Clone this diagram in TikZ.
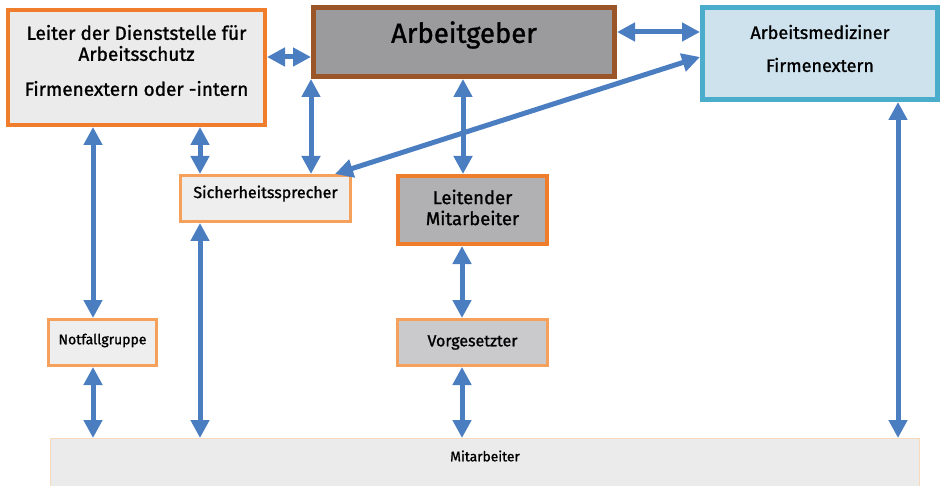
\documentclass[tikz,border=0pt]{standalone}
\usepackage{fontspec}
\setmainfont{Fira Sans}[FakeBold=1.2]
\usetikzlibrary{arrows.meta}
\definecolor{orgA}{HTML}{EF7D2B}
\definecolor{orgB}{HTML}{F5A15C}
\definecolor{orgC}{HTML}{F9D9BC}
\definecolor{brownA}{HTML}{9A5528}
\definecolor{cyanA}{HTML}{49ADCB}
\definecolor{blueA}{HTML}{4A7EC1}
\definecolor{grayA}{HTML}{9B9B9D}
\definecolor{grayB}{HTML}{B1B1B3}
\definecolor{grayC}{HTML}{CACACC}
\definecolor{grayD}{HTML}{EBEBEB}
\definecolor{grayE}{HTML}{EEEEEE}
\definecolor{lblue}{HTML}{CEE2EE}
\begin{document}
\begin{tikzpicture}[x=1pt,y=-1pt,
  box/.style={draw, rectangle, inner sep=0pt},
  txt/.style={align=center, inner sep=0pt, text=black},
  link/.style={draw=blueA, line width=5pt,
    {Triangle[width=18pt,length=18pt]}-{Triangle[width=18pt,length=18pt]}}]
\useasboundingbox (0,0) rectangle (944,486);

\node[box, draw=orgA, fill=grayD, line width=4pt, minimum width=257pt, minimum height=115pt,
  label={[txt, yshift=7pt, font=\fontsize{19}{21}\selectfont]center:Leiter der Dienststelle für\\Arbeitsschutz\\[14pt]Firmenextern oder -intern}]
  (leiter) at (136.5,67.5) {};

\node[box, draw=brownA, fill=grayA, line width=5pt, minimum width=301pt, minimum height=69pt,
  label={[txt, yshift=7pt, font=\fontsize{27.5}{30}\selectfont]center:Arbeitgeber}]
  (ag) at (464,42) {};

\node[box, draw=cyanA, fill=lblue, line width=5pt, minimum width=235pt, minimum height=92pt,
  label={[txt, yshift=5pt, font=\fontsize{18}{33}\selectfont]center:Arbeitsmediziner\\Firmenextern}]
  (amz) at (820,53.5) {};

\node[box, draw=orgB, fill=grayE, line width=3pt, minimum width=170pt, minimum height=46pt,
  label={[txt, yshift=5pt, font=\fontsize{16}{18}\selectfont]center:Sicherheitssprecher}]
  (sich) at (265.5,198.5) {};

\node[box, draw=orgA, fill=grayB, line width=4pt, minimum width=149pt, minimum height=68pt,
  label={[txt, yshift=2.5pt, font=\fontsize{18.5}{21}\selectfont]center:Leitender\\Mitarbeiter}]
  (leit) at (472.5,210) {};

\node[box, draw=orgB, fill=grayE, line width=3pt, minimum width=108pt, minimum height=46pt,
  label={[txt, yshift=2pt, font=\fontsize{14}{16}\selectfont]center:Notfallgruppe}]
  (notf) at (102.5,342.5) {};

\node[box, draw=orgB, fill=grayC, line width=3pt, minimum width=150pt, minimum height=46pt,
  label={[txt, font=\fontsize{16}{18}\selectfont]center:Vorgesetzter}]
  (vorg) at (472.5,342.5) {};

\node[box, draw=orgC, fill=grayD, line width=1pt, minimum width=869pt, minimum height=61pt,
  label={[txt, yshift=13pt, font=\fontsize{13.8}{16}\selectfont]center:Mitarbeiter}]
  (mit) at (485,469) {};

% connectors
\draw[link] (leiter.east |- 0,57) -- (ag.west |- 0,57);
\draw[link] (ag.east |- 0,32) -- (amz.west |- 0,32);
\draw[link] (amz.west |- 0,57) -- ([xshift=-17pt]sich.north east);
\draw[link] (ag.south west) -- (ag.south west |- sich.north);
\draw[link] (ag.south -| 463,0) -- (leit.north -| 463,0);
\draw[link] (leiter.south -| 93,0) -- (notf.north -| 93,0);
\draw[link] (leiter.south -| 200,0) -- (sich.north -| 200,0);
\draw[link] (sich.south -| 200,0) -- (mit.north -| 200,0);
\draw[link] (leit.south -| 462,0) -- (vorg.north -| 462,0);
\draw[link] (notf.south -| 93,0) -- (mit.north -| 93,0);
\draw[link] (vorg.south -| 462,0) -- (mit.north -| 462,0);
\draw[link] (amz.south -| 898,0) -- (mit.north -| 898,0);
\end{tikzpicture}
\end{document}
